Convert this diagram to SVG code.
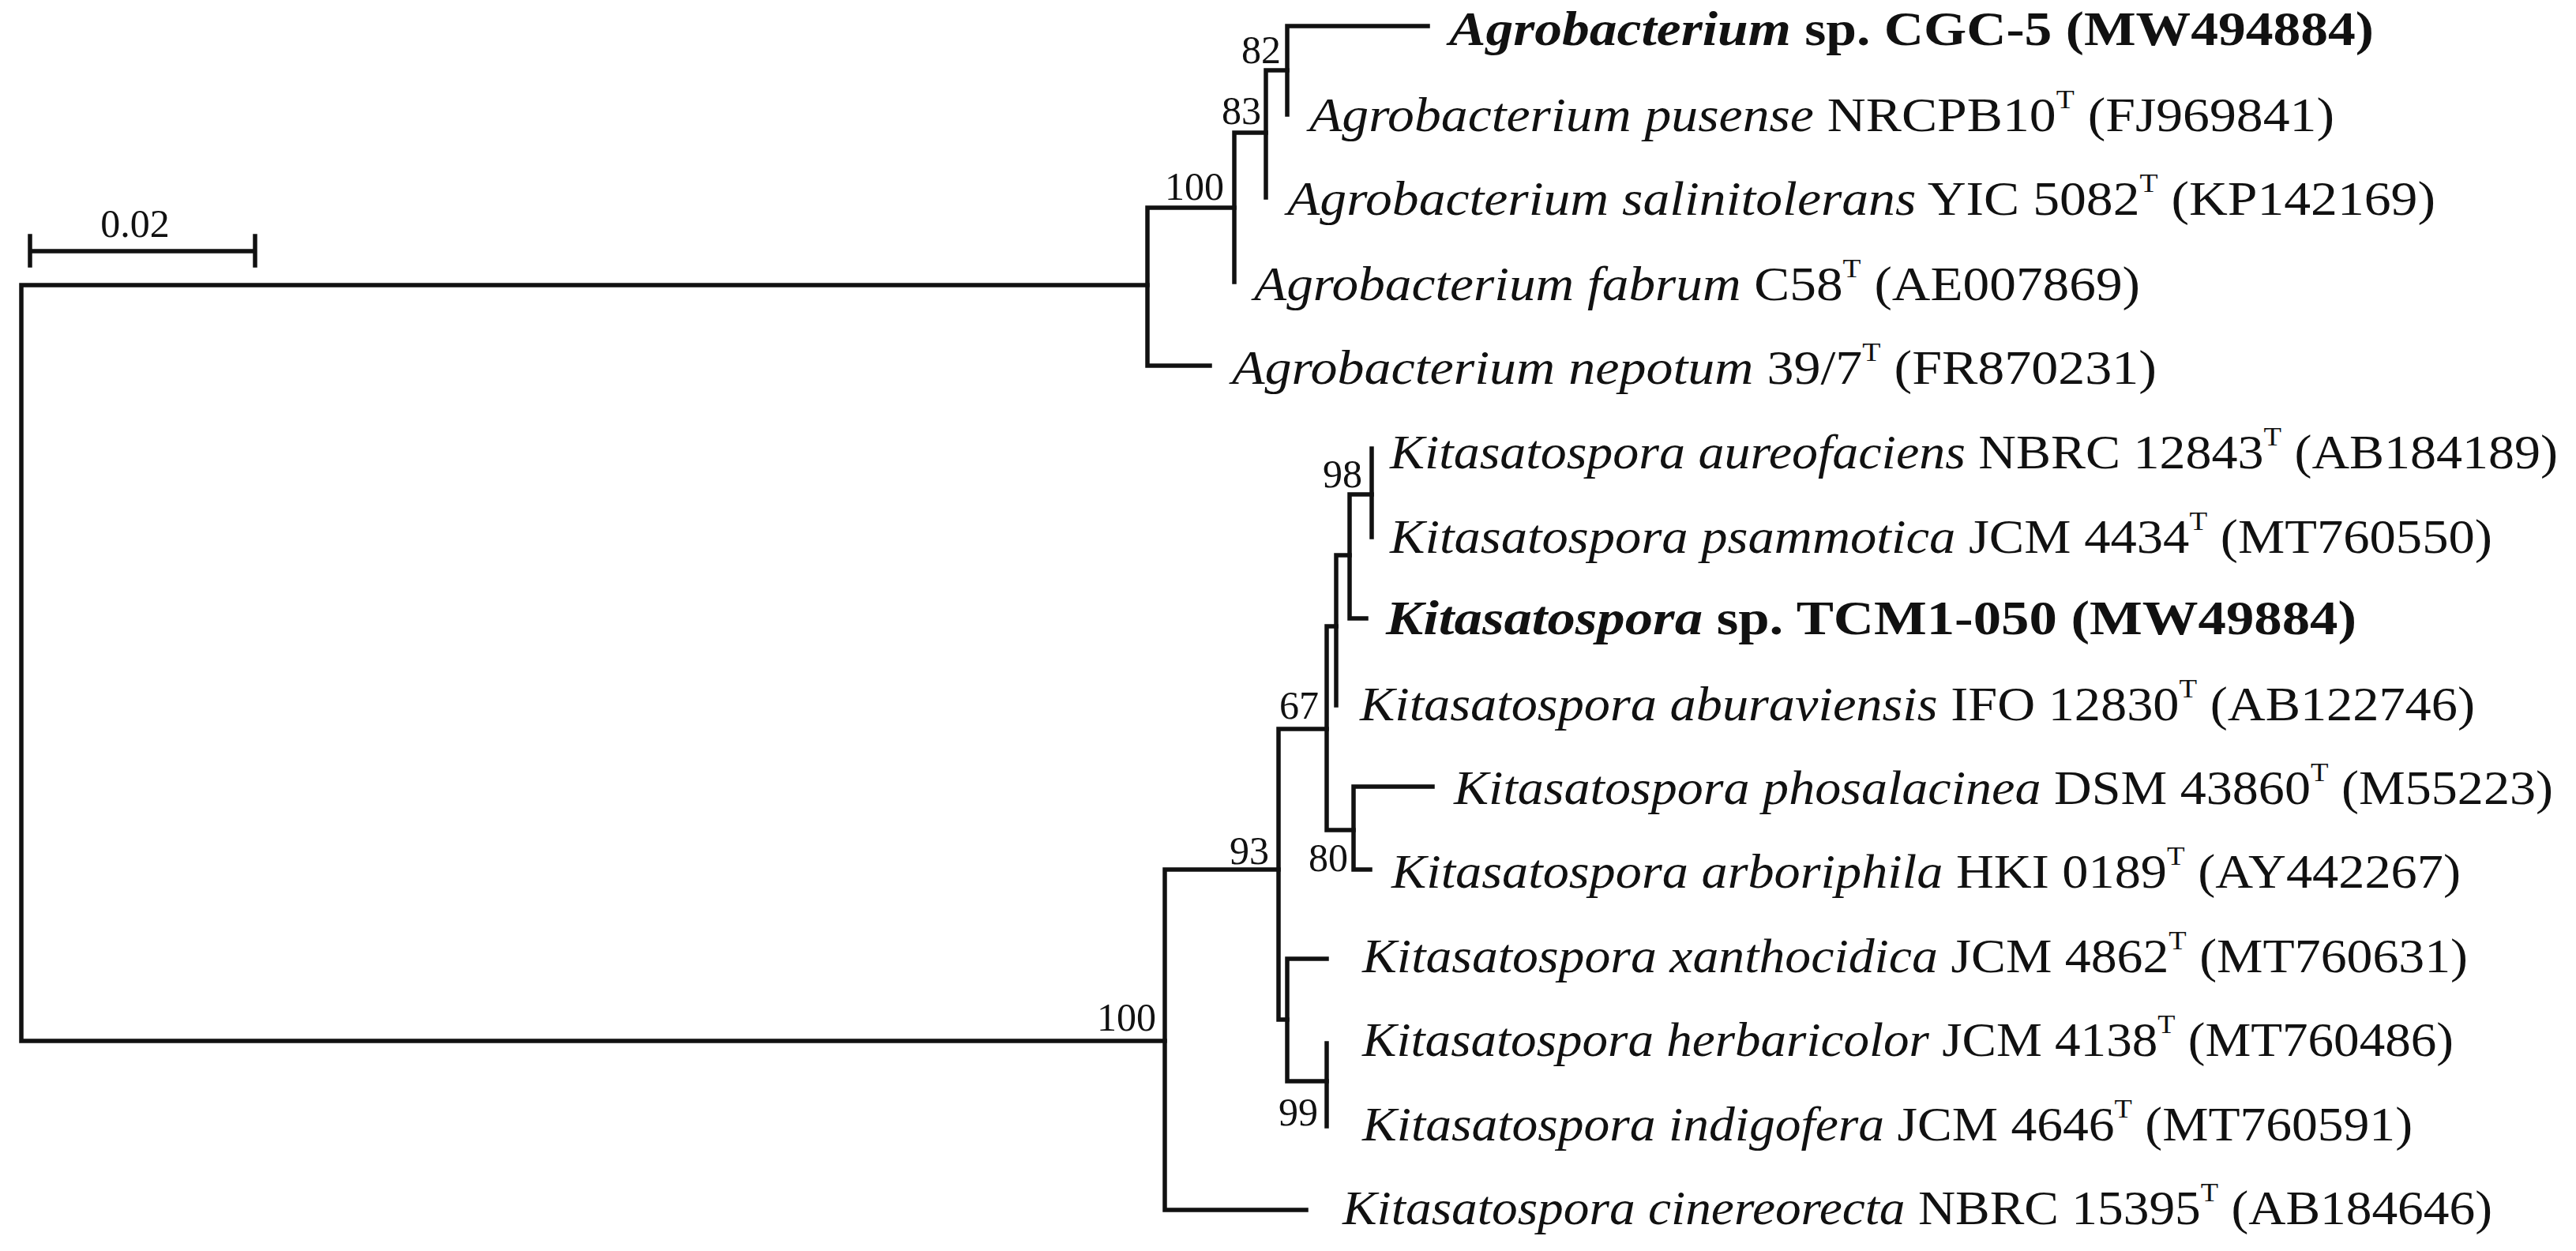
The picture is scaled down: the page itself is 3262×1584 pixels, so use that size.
<svg xmlns="http://www.w3.org/2000/svg" width="3262" height="1584" viewBox="0 0 3262 1584">
<style>
.br{fill:none;stroke:#111;stroke-width:5.5;stroke-linecap:square;stroke-linejoin:miter}
.lab{font-family:"Liberation Serif","Times New Roman",serif;font-size:61px;fill:#111}
.i{font-style:italic}
.b{font-weight:bold}
.sup{font-size:34px}
.bs{font-family:"Liberation Serif","Times New Roman",serif;font-size:50px;fill:#111;text-anchor:end}
</style>
<rect width="3262" height="1584" fill="#fff"/>
<g id="scale-bar">
<path class="br" d="M38 299 V336 M38 318 H323 M323 299 V336"/>
<text class="bs" x="171" y="300" text-anchor="middle" style="text-anchor:middle">0.02</text>
</g>
<g id="connectors">
<path class="br" d="M1453 361 H27 V1318 H1475"/>
<path class="br" d="M1563 263 H1453 V463 H1532"/>
<path class="br" d="M1603 168 H1563 V357"/>
<path class="br" d="M1630 89 H1603 V250"/>
<path class="br" d="M1808 33 H1630 V145"/>
<path class="br" d="M1619 1101 H1475 V1532 H1654"/>
<path class="br" d="M1680 923 H1619 V1291 H1630"/>
<path class="br" d="M1692 793 H1680 V1051 H1714"/>
<path class="br" d="M1709 703 H1692 V893"/>
<path class="br" d="M1737 626 H1709 V783 H1730"/>
<path class="br" d="M1737 568 V680"/>
<path class="br" d="M1814 996 H1714 V1101 H1735"/>
<path class="br" d="M1680 1214 H1630 V1369 H1680"/>
<path class="br" d="M1680 1321 V1426"/>
</g>
<g id="support-values">
<text class="bs" x="1622" y="80">82</text>
<text class="bs" x="1597" y="157">83</text>
<text class="bs" x="1550" y="253">100</text>
<text class="bs" x="1725" y="617">98</text>
<text class="bs" x="1670" y="910">67</text>
<text class="bs" x="1707" y="1103">80</text>
<text class="bs" x="1607" y="1094">93</text>
<text class="bs" x="1464" y="1305">100</text>
<text class="bs" x="1669" y="1425">99</text>
</g>
<g id="leaf-cgc5"><text class="lab b" x="1835" y="57" textLength="1171" lengthAdjust="spacingAndGlyphs"><tspan class="i">Agrobacterium</tspan> sp. CGC-5 (MW494884)</text></g>
<g id="leaf-pusense"><text class="lab" x="1658" y="166" textLength="1298" lengthAdjust="spacingAndGlyphs"><tspan class="i">Agrobacterium pusense</tspan> NRCPB10<tspan class="sup" dy="-29">T</tspan><tspan dy="29"> (FJ969841)</tspan></text></g>
<g id="leaf-salinitolerans"><text class="lab" x="1630" y="272" textLength="1454" lengthAdjust="spacingAndGlyphs"><tspan class="i">Agrobacterium salinitolerans</tspan> YIC 5082<tspan class="sup" dy="-29">T</tspan><tspan dy="29"> (KP142169)</tspan></text></g>
<g id="leaf-fabrum"><text class="lab" x="1588" y="380" textLength="1122" lengthAdjust="spacingAndGlyphs"><tspan class="i">Agrobacterium fabrum</tspan> C58<tspan class="sup" dy="-29">T</tspan><tspan dy="29"> (AE007869)</tspan></text></g>
<g id="leaf-nepotum"><text class="lab" x="1560" y="486" textLength="1171" lengthAdjust="spacingAndGlyphs"><tspan class="i">Agrobacterium nepotum</tspan> 39/7<tspan class="sup" dy="-29">T</tspan><tspan dy="29"> (FR870231)</tspan></text></g>
<g id="leaf-aureofaciens"><text class="lab" x="1760" y="593" textLength="1479" lengthAdjust="spacingAndGlyphs"><tspan class="i">Kitasatospora aureofaciens</tspan> NBRC 12843<tspan class="sup" dy="-29">T</tspan><tspan dy="29"> (AB184189)</tspan></text></g>
<g id="leaf-psammotica"><text class="lab" x="1760" y="700" textLength="1396" lengthAdjust="spacingAndGlyphs"><tspan class="i">Kitasatospora psammotica</tspan> JCM 4434<tspan class="sup" dy="-29">T</tspan><tspan dy="29"> (MT760550)</tspan></text></g>
<g id="leaf-tcm1-050"><text class="lab b" x="1755" y="803" textLength="1229" lengthAdjust="spacingAndGlyphs"><tspan class="i">Kitasatospora</tspan> sp. TCM1-050 (MW49884)</text></g>
<g id="leaf-aburaviensis"><text class="lab" x="1722" y="912" textLength="1412" lengthAdjust="spacingAndGlyphs"><tspan class="i">Kitasatospora aburaviensis</tspan> IFO 12830<tspan class="sup" dy="-29">T</tspan><tspan dy="29"> (AB122746)</tspan></text></g>
<g id="leaf-phosalacinea"><text class="lab" x="1841" y="1018" textLength="1392" lengthAdjust="spacingAndGlyphs"><tspan class="i">Kitasatospora phosalacinea</tspan> DSM 43860<tspan class="sup" dy="-29">T</tspan><tspan dy="29"> (M55223)</tspan></text></g>
<g id="leaf-arboriphila"><text class="lab" x="1762" y="1124" textLength="1354" lengthAdjust="spacingAndGlyphs"><tspan class="i">Kitasatospora arboriphila</tspan> HKI 0189<tspan class="sup" dy="-29">T</tspan><tspan dy="29"> (AY442267)</tspan></text></g>
<g id="leaf-xanthocidica"><text class="lab" x="1725" y="1231" textLength="1400" lengthAdjust="spacingAndGlyphs"><tspan class="i">Kitasatospora xanthocidica</tspan> JCM 4862<tspan class="sup" dy="-29">T</tspan><tspan dy="29"> (MT760631)</tspan></text></g>
<g id="leaf-herbaricolor"><text class="lab" x="1725" y="1337" textLength="1382" lengthAdjust="spacingAndGlyphs"><tspan class="i">Kitasatospora herbaricolor</tspan> JCM 4138<tspan class="sup" dy="-29">T</tspan><tspan dy="29"> (MT760486)</tspan></text></g>
<g id="leaf-indigofera"><text class="lab" x="1725" y="1444" textLength="1330" lengthAdjust="spacingAndGlyphs"><tspan class="i">Kitasatospora indigofera</tspan> JCM 4646<tspan class="sup" dy="-29">T</tspan><tspan dy="29"> (MT760591)</tspan></text></g>
<g id="leaf-cinereorecta"><text class="lab" x="1700" y="1550" textLength="1456" lengthAdjust="spacingAndGlyphs"><tspan class="i">Kitasatospora cinereorecta</tspan> NBRC 15395<tspan class="sup" dy="-29">T</tspan><tspan dy="29"> (AB184646)</tspan></text></g>
</svg>
